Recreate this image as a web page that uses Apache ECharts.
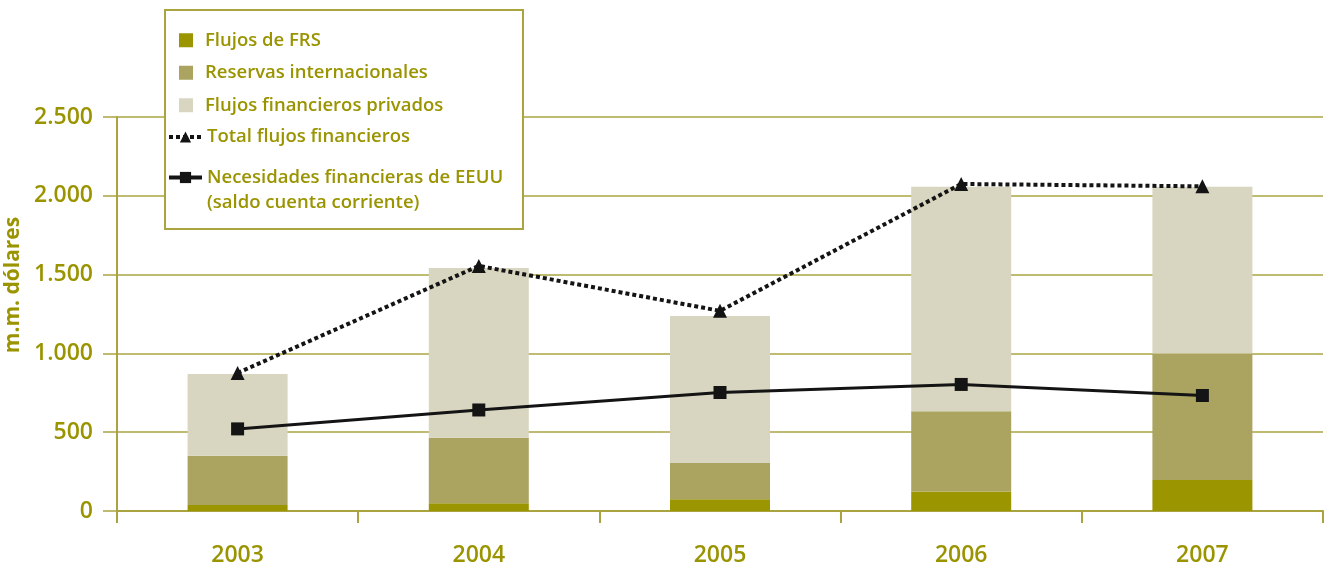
<!DOCTYPE html>
<html>
<head>
<meta charset="utf-8">
<script src="https://cdn.jsdelivr.net/npm/echarts@6/dist/echarts.min.js"></script>
<style>
html,body{margin:0;padding:0;background:#fff;}
#c{width:1330px;height:571px;}
</style>
</head>
<body>
<div id="c"></div>
<script>
const categories = ['2003', '2004', '2005', '2006', '2007'];
const flujosFRS = [38, 49, 74, 123, 197];
const reservas = [313, 416, 231, 510, 803];
const privados = [518, 1077, 932, 1425, 1058];
const totalFlujos = [876, 1555, 1270, 2075, 2060];
const necesidades = [521, 641, 752, 803, 733];
const yTicks = [0, 500, 1000, 1500, 2000, 2500];

const OLIVE_TEXT = '#9a9400';
const OLIVE_LINE = '#aaa440';
const FONT = '"Open Sans", "Noto Sans", sans-serif';

const chart = echarts.init(document.getElementById('c'));
chart.setOption({
  animation: false,
  backgroundColor: '#fff',
  grid: { left: 117, right: 7, top: 117, bottom: 60, containLabel: false, outerBoundsMode: 'none' },
  xAxis: {
    type: 'category',
    data: categories,
    axisLine: { lineStyle: { color: OLIVE_LINE, width: 2 } },
    axisTick: { show: true, length: 12, lineStyle: { color: OLIVE_LINE, width: 2 } },
    axisLabel: { margin: 33, color: OLIVE_TEXT, fontSize: 23, fontFamily: FONT, fontWeight: 600 }
  },
  yAxis: {
    type: 'value',
    min: 0, max: 2500, interval: 500,
    name: 'm.m. dólares',
    nameLocation: 'middle',
    nameGap: 90,
    nameTextStyle: { color: OLIVE_TEXT, fontSize: 21, fontFamily: FONT, fontWeight: 'bold', padding: [0, 0, 0, 58] },
    axisLine: { show: true, lineStyle: { color: OLIVE_LINE, width: 2 } },
    axisTick: { show: true, length: 14, lineStyle: { color: OLIVE_LINE, width: 1.5 } },
    splitLine: { lineStyle: { color: OLIVE_LINE, width: 1.5 } },
    axisLabel: {
      margin: 24, color: OLIVE_TEXT, fontSize: 23, fontFamily: FONT, fontWeight: 600,
      formatter: v => yTicks.includes(v) ? String(v).replace(/\B(?=(\d{3})+(?!\d))/g, '.') : ''
    }
  },
  legend: [
    {
      data: [
        { name: 'Flujos de FRS', icon: 'rect' },
        { name: 'Reservas internacionales', icon: 'rect' },
        { name: 'Flujos financieros privados', icon: 'rect' }
      ],
      orient: 'vertical', left: 179, top: 24, padding: 0, itemGap: 0,
      itemWidth: 14, itemHeight: 14,
      textStyle: { color: OLIVE_TEXT, fontSize: 18.5, fontFamily: FONT, fontWeight: 600, lineHeight: 32.5, padding: [0, 0, 0, 7] }
    },
    {
      data: ['Total flujos financieros'],
      orient: 'vertical', left: 167, top: 121, padding: 0,
      itemWidth: 33, itemHeight: 14,
      lineStyle: { width: 4 },
      textStyle: { color: OLIVE_TEXT, fontSize: 18.5, fontFamily: FONT, fontWeight: 600, lineHeight: 32 }
    },
    {
      data: ['Necesidades financieras de EEUU'],
      formatter: n => ' \n' + n + '\n(saldo cuenta corriente)',
      orient: 'vertical', left: 167, top: 140, padding: 0,
      itemWidth: 33, itemHeight: 14,
      lineStyle: { width: 4 },
      textStyle: { color: OLIVE_TEXT, fontSize: 18.5, fontFamily: FONT, fontWeight: 600, lineHeight: 25 }
    }
  ],
  graphic: {
    elements: [{
      type: 'rect', z: 3, silent: true,
      shape: { x: 165, y: 10, width: 358, height: 219 },
      style: { fill: '#fff', stroke: OLIVE_LINE, lineWidth: 2 }
    }]
  },
  series: [
    { name: 'Flujos de FRS', type: 'bar', stack: 'a', barWidth: 100, data: flujosFRS, itemStyle: { color: '#9b9500' } },
    { name: 'Reservas internacionales', type: 'bar', stack: 'a', barWidth: 100, data: reservas, itemStyle: { color: '#aaa460' } },
    { name: 'Flujos financieros privados', type: 'bar', stack: 'a', barWidth: 100, data: privados, itemStyle: { color: '#d8d6c0' } },
    {
      name: 'Total flujos financieros', type: 'line', data: totalFlujos,
      symbol: 'triangle', symbolSize: 14,
      lineStyle: { color: '#141414', width: 4, type: [4, 3] },
      itemStyle: { color: '#141414' }
    },
    {
      name: 'Necesidades financieras de EEUU', type: 'line', data: necesidades,
      symbol: 'rect', symbolSize: 13,
      lineStyle: { color: '#141414', width: 3 },
      itemStyle: { color: '#141414' }
    }
  ]
});
</script>
</body>
</html>
